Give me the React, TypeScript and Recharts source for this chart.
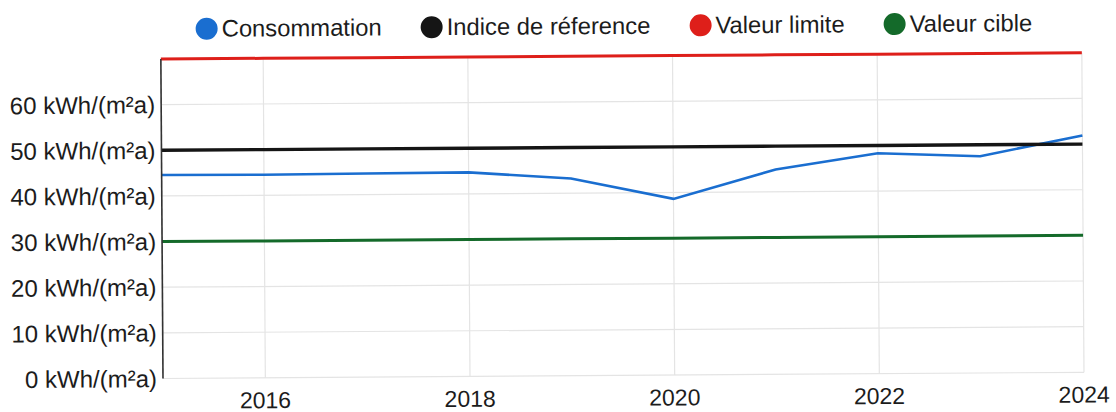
import React from "react";
import { LineChart, Line, XAxis, YAxis, CartesianGrid } from "recharts";

const years = [2015, 2016, 2017, 2018, 2019, 2020, 2021, 2022, 2023, 2024];
const consommation = [44.6, 44.5, 44.6, 44.7, 43.2, 38.6, 44.9, 48.3, 47.5, 51.9];
const indiceReference = [50, 50, 50, 50, 50, 50, 50, 50, 50, 50];
const valeurLimite = [70, 70, 70, 70, 70, 70, 70, 70, 70, 70];
const valeurCible = [30, 30, 30, 30, 30, 30, 30, 30, 30, 30];
const yTicks = [0, 10, 20, 30, 40, 50, 60];
const xTicks = [2016, 2018, 2020, 2022, 2024];

const series = [
  { key: "consommation", name: "Consommation", color: "#1a6ed0", width: 2.6 },
  { key: "indice", name: "Indice de réference", color: "#151515", width: 3.4 },
  { key: "limite", name: "Valeur limite", color: "#de1f1a", width: 3 },
  { key: "cible", name: "Valeur cible", color: "#146a2a", width: 3 },
];

const data = years.map((y, i) => ({
  year: y,
  consommation: consommation[i],
  indice: indiceReference[i],
  limite: valeurLimite[i],
  cible: valeurCible[i],
}));

const FONT = "'Liberation Sans', Arial, sans-serif";

export default function App() {
  return (
    <div
      style={{
        position: "absolute",
        left: 0,
        top: 0,
        width: 1116,
        height: 412,
        background: "#fff",
        overflow: "hidden",
        fontFamily: FONT,
      }}
    >
      <div
        style={{
          position: "absolute",
          left: 0,
          top: 0,
          width: 1116,
          height: 412,
          transform: "rotate(-0.386deg)",
          transformOrigin: "163px 378px",
        }}
      >
        <div
          style={{
            position: "absolute",
            left: 198,
            top: 18,
            display: "flex",
            alignItems: "center",
            whiteSpace: "nowrap",
          }}
        >
          {series.map((s) => (
            <div
              key={s.key}
              style={{ display: "flex", alignItems: "center", marginRight: 39 }}
            >
              <span
                style={{
                  display: "inline-block",
                  width: 22,
                  height: 22,
                  borderRadius: 11,
                  background: s.color,
                  marginRight: 4,
                }}
              />
              <span style={{ fontSize: 23.8, color: "#1c1c1c", lineHeight: "22px" }}>
                {s.name}
              </span>
            </div>
          ))}
        </div>
        <LineChart
          width={1116}
          height={412}
          data={data}
          margin={{ top: 59, right: 32, left: 0, bottom: 0 }}
        >
          <CartesianGrid stroke="#e4e4e4" strokeWidth={1.2} />
          <XAxis
            dataKey="year"
            type="number"
            domain={[2015, 2024]}
            ticks={xTicks}
            axisLine={false}
            tickLine={false}
            tickSize={0}
            tickMargin={14}
            height={33.5}
            tick={{ fontSize: 23, fill: "#1c1c1c", fontFamily: FONT }}
          />
          <YAxis
            type="number"
            domain={[0, 70]}
            ticks={yTicks}
            width={163}
            tickLine={false}
            tickSize={0}
            tickMargin={6}
            axisLine={{ stroke: "#333", strokeWidth: 1.6 }}
            tickFormatter={(v: number) => `${v} kWh/(m²a)`}
            tick={{ fontSize: 24, fill: "#1c1c1c", fontFamily: FONT }}
          />
          {series.map((s) => (
            <Line
              key={s.key}
              dataKey={s.key}
              name={s.name}
              type="linear"
              stroke={s.color}
              strokeWidth={s.width}
              dot={false}
              activeDot={false}
              isAnimationActive={false}
            />
          ))}
        </LineChart>
      </div>
    </div>
  );
}
